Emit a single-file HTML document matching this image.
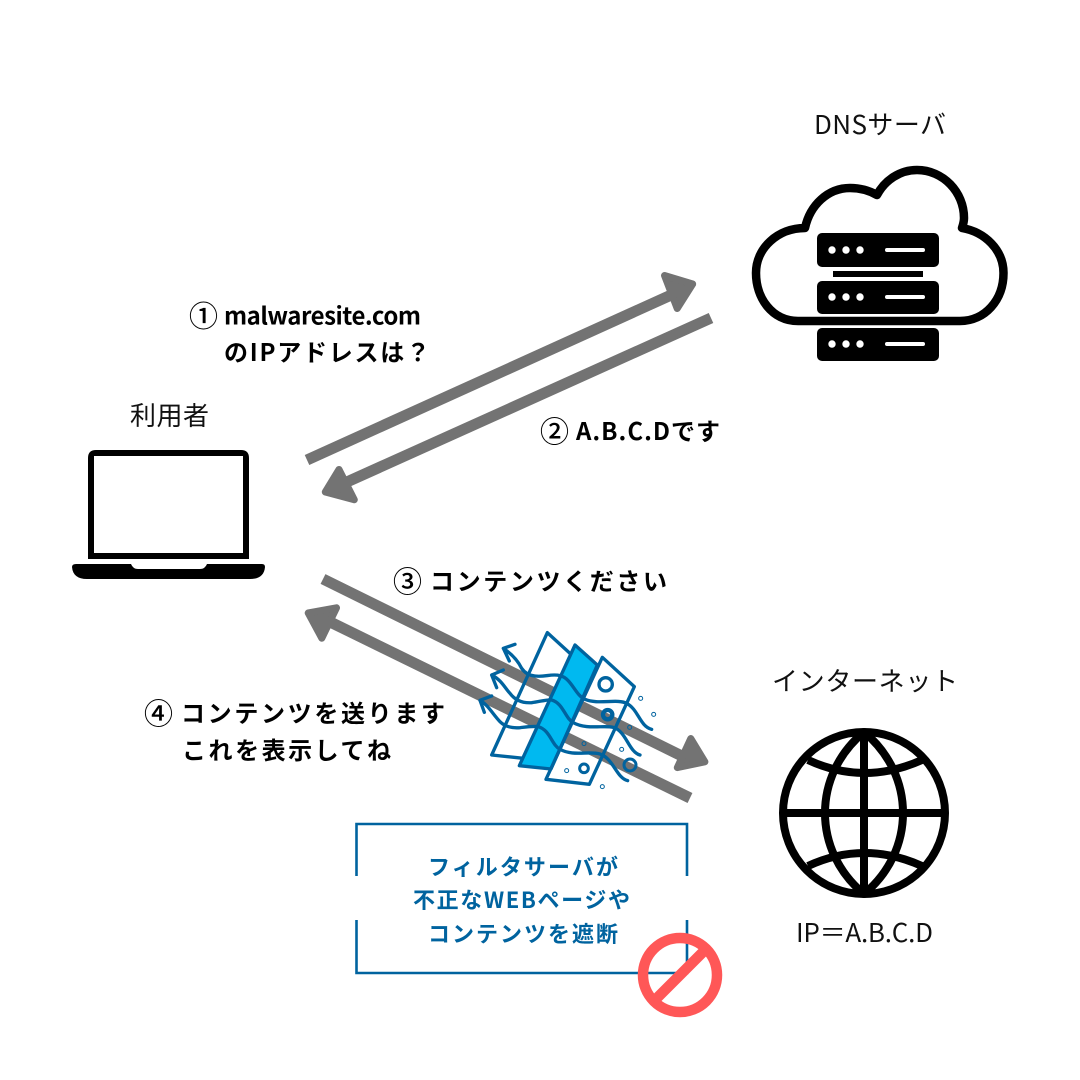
<!DOCTYPE html>
<html><head><meta charset="utf-8"><style>
html,body{margin:0;padding:0;background:#fff}
svg{display:block}
text{font-family:"Liberation Sans","Noto Sans CJK JP",sans-serif}
.b{font-family:"Noto Sans CJK JP","Liberation Sans",sans-serif;font-weight:700;font-size:24px;fill:#000}
.c{font-family:"Noto Sans CJK JP","Liberation Sans",sans-serif;font-weight:500;font-size:29px;fill:#000}
.r{font-family:"Noto Sans CJK JP","Liberation Sans",sans-serif;font-weight:400;font-size:26px;fill:#111}
.f{font-family:"Noto Sans CJK JP","Liberation Sans",sans-serif;font-weight:700;font-size:22px;fill:#00639f}
</style></head><body>
<svg width="1080" height="1080" viewBox="0 0 1080 1080" xmlns="http://www.w3.org/2000/svg">
<rect width="1080" height="1080" fill="#fff"/>
<!-- arrows -->
<g fill="#737373" stroke="none">
<g stroke="#737373" stroke-width="11" fill="none">
<path d="M307 460L680 291"/>
<path d="M711 318L338 486"/>
<path d="M323 579L690 760"/>
<path d="M690 798L322 618"/>
</g>
<g stroke="#737373" stroke-width="7" stroke-linejoin="round">
<polygon points="664.500,275.500 692.700,284 677.200,308.500"/>
<polygon points="339,469.500 325.300,492 354.300,499.700"/>
<polygon points="690.800,738.500 704.900,761.800 677.300,767.600"/>
<polygon points="308.200,613 336.500,607.800 321.800,638.200"/>
</g>
</g>
<!-- filter icon -->
<g transform="translate(470 620) scale(.33333)" fill="none" stroke="#00639f" stroke-width="10" stroke-linejoin="round" stroke-linecap="round">
<path d="M300 100L232 38L65 405L160 415"/>
<path d="M315 75L382 135L243 447L148 437Z" fill="#00b9f0"/>
<path d="M397 112L493 200L358 493L228 478Z"/>
<path d="M135 73L100 85L118 123M100 85C130 105 145 125 155 145C165 160 180 167 195 168C225 172 245 160 270 167C305 175 315 225 345 238C385 255 440 235 470 250C505 268 510 320 545 328"/>
<path d="M100 150L65 165L80 203M65 165C95 180 105 205 120 220C135 240 155 250 185 248C210 245 230 238 245 240C280 250 285 295 310 308C350 330 400 315 430 322C470 335 475 395 510 405"/>
<path d="M65 228L30 241L43 277M30 241C55 255 70 285 90 305C105 320 125 325 150 323C175 320 190 318 205 320C240 330 245 375 270 388C310 410 355 392 390 402C430 415 440 475 473 482"/>
<circle cx="407" cy="193" r="20" stroke-width="10"/>
<circle cx="413" cy="284" r="14" stroke-width="13"/>
<circle cx="480" cy="435" r="18" stroke-width="9"/>
<circle cx="342" cy="445" r="13" stroke-width="9"/>
<g stroke-width="3">
<circle cx="512" cy="235" r="6"/><circle cx="551" cy="283" r="6"/><circle cx="479" cy="322" r="6"/><circle cx="342" cy="371" r="6"/><circle cx="455" cy="388" r="6"/><circle cx="290" cy="452" r="6"/><circle cx="397" cy="500" r="6"/>
</g>
</g>
<!-- cloud -->
<path d="M798 321C772 321 756 298 756 273C756 248 778 228 805 228C810 205 828 188 850 188C860 188 870 191 877 195C885 180 900 170 917 170C943 170 964 192 964 218C964 222 963 225 962 228C985 232 1003.500 250 1003.500 273C1003.500 300 985 321 960 321Z" fill="none" stroke="#000" stroke-width="8.500" stroke-linejoin="round"/>
<g fill="#000">
<rect x="817" y="233" width="122" height="34" rx="5"/>
<rect x="817" y="281" width="122" height="33" rx="5"/>
<rect x="817" y="328" width="122" height="33" rx="5"/>
<rect x="833" y="271" width="90" height="6"/>
</g>
<g fill="#fff">
<circle cx="832" cy="250" r="3.700"/><circle cx="846" cy="250" r="3.700"/><circle cx="860" cy="250" r="3.700"/>
<circle cx="832" cy="297" r="3.700"/><circle cx="846" cy="297" r="3.700"/><circle cx="860" cy="297" r="3.700"/>
<circle cx="832" cy="344" r="3.700"/><circle cx="846" cy="344" r="3.700"/><circle cx="860" cy="344" r="3.700"/>
<rect x="885" y="248" width="40" height="4" rx="2"/>
<rect x="885" y="295" width="40" height="4" rx="2"/>
<rect x="885" y="342" width="40" height="4" rx="2"/>
</g>
<!-- laptop -->
<path d="M96 450H241Q249 450 249 458V559H88V458Q88 450 96 450ZM94 456V553H243V456Z" fill="#000" fill-rule="evenodd"/>
<path d="M76 564H131Q133 569 138 569H200Q205 569 207 564H262Q265 564 265 567Q264 579 250 579H87Q73 579 72 567Q72 564 76 564Z" fill="#000"/>
<!-- globe -->
<g fill="none" stroke="#000" stroke-width="8">
<circle cx="864" cy="813" r="81"/>
<path d="M864 732C812 775 812 851 864 894C916 851 916 775 864 732Z" stroke-linejoin="round"/>
<path d="M864 732V894M783 813H945"/>
<path d="M808 760Q864 786 922 760"/>
<path d="M808 866Q864 840 922 866"/>
</g>
<!-- box -->
<path d="M356.500 876V824H687V876M356.500 920V973H687V920" fill="none" stroke="#00639f" stroke-width="2.600"/>
<!-- no sign -->
<g fill="none" stroke="#ff5757" stroke-width="10.500">
<circle cx="680" cy="975" r="37"/>
<path d="M706 949L654 1001"/>
</g>
<!-- labels -->
<text class="r" x="814" y="134" textLength="132" lengthAdjust="spacing">DNSサーバ</text>
<text class="r" x="130" y="425" textLength="79" lengthAdjust="spacing">利用者</text>
<text class="r" x="772" y="690.500" textLength="186" lengthAdjust="spacing">インターネット</text>
<text class="r" x="796" y="942" textLength="137" lengthAdjust="spacing">IP＝A.B.C.D</text>
<text class="c" x="189" y="326.500">①</text>
<text class="b" x="224" y="324.500" textLength="197" lengthAdjust="spacing">malwaresite.com</text>
<text class="b" x="224" y="361" textLength="206" lengthAdjust="spacing">のIPアドレスは？</text>
<text class="c" x="540" y="442">②</text>
<text class="b" x="576" y="440" textLength="144" lengthAdjust="spacing">A.B.C.Dです</text>
<text class="c" x="393" y="592">③</text>
<text class="b" x="430" y="590" textLength="237" lengthAdjust="spacing">コンテンツください</text>
<text class="c" x="144" y="724">④</text>
<text class="b" x="181" y="722" textLength="264" lengthAdjust="spacing">コンテンツを送ります</text>
<text class="b" x="182" y="759" textLength="209" lengthAdjust="spacing">これを表示してね</text>
<text class="f" x="428" y="875" textLength="190" lengthAdjust="spacing">フィルタサーバが</text>
<text class="f" x="413" y="908" textLength="217" lengthAdjust="spacing">不正なWEBページや</text>
<text class="f" x="428" y="942" textLength="190" lengthAdjust="spacing">コンテンツを遮断</text>
</svg>
</body></html>
